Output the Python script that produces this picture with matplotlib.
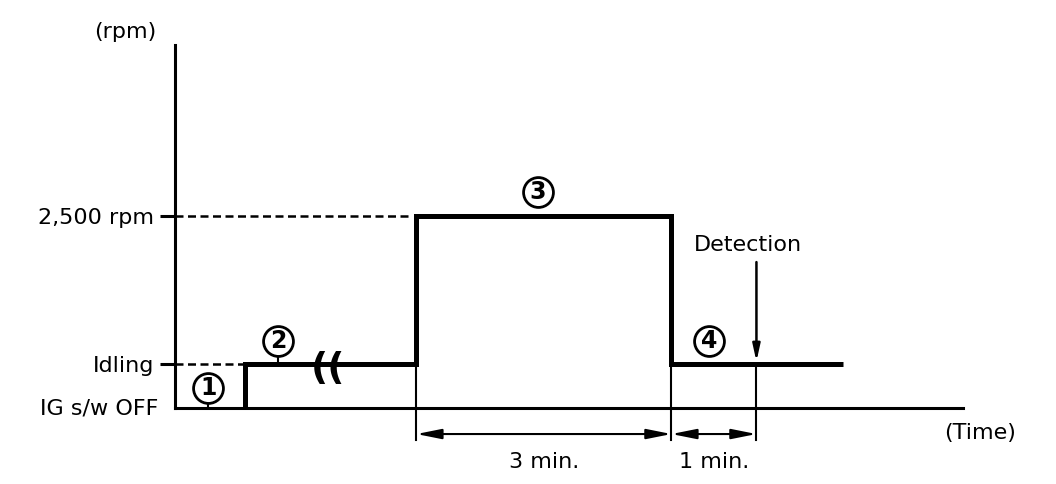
import matplotlib
matplotlib.use("Agg")
import matplotlib.pyplot as plt

# ---- data (time in minutes, speed in rpm; schematic) ----
level_names = ["IG s/w OFF", "Idling", "2,500 rpm"]
rpm_off = 0
rpm_idle = 575
rpm_high = 2500

t_ig_on = 0.82        # step 1 -> 2
t_break = 1.80        # time-axis break mark
t_accel = 2.84        # start of 2,500 rpm
hold_high = 3.0       # minutes at 2,500 rpm
hold_detect = 1.0     # minutes until detection
t_end = 7.86          # end of the trace
t_axis_end = 9.27

t_down = t_accel + hold_high
t_detect = t_down + hold_detect

step_t = [t_ig_on, t_ig_on, t_accel, t_accel, t_down, t_down, t_end]
step_rpm = [rpm_off, rpm_idle, rpm_idle, rpm_high, rpm_high, rpm_idle, rpm_idle]

circle_labels = ["1", "2", "3", "4"]
circle_t = [0.39, 1.21, 4.27, 6.28]
circle_rpm = [260, 872, 2812, 872]
circle_stem_to = [rpm_off, rpm_idle, None, None]

dim_labels = ["3 min.", "1 min."]

# ---- figure ----
plt.rcParams['font.family'] = ['DejaVu Sans']
fig = plt.figure(figsize=(10.56, 4.84), dpi=100)
ax = fig.add_axes([175/1056, 76/484, 788/1056, 363/484])
ax.set_xlim(0, t_axis_end)
ax.set_ylim(0, 4727)

for s in ["top", "right"]:
    ax.spines[s].set_visible(False)
for s in ["left", "bottom"]:
    ax.spines[s].set_linewidth(2.2)
ax.set_xticks([])
ax.set_yticks([rpm_idle, rpm_high])
ax.set_yticklabels(level_names[1:], fontsize=16)
ax.tick_params(axis='y', direction='out', length=11, width=2.2, pad=4)

fs = 16
# OFF label
ax.text(-0.2, rpm_off, level_names[0], ha='right', va='center', fontsize=fs, clip_on=False)
# axis labels
ax.text(-0.58, 4896, "(rpm)", ha='center', va='center', fontsize=fs, clip_on=False)
ax.text(9.47, -326, "(Time)", ha='center', va='center', fontsize=fs, clip_on=False)

# dashed guide lines
ax.plot([0, t_ig_on], [rpm_idle, rpm_idle], color='black', lw=1.8, ls=(0, (3.2, 1.8)))
ax.plot([0, t_accel - 0.06], [rpm_high, rpm_high], color='black', lw=1.8, ls=(0, (3.2, 1.8)))

# main step trace
ax.plot(step_t, step_rpm, color='black', lw=3.6, solid_joinstyle='miter',
        solid_capstyle='butt', zorder=3)

# break mark
ax.text(t_break, rpm_idle - 70, "((", ha='center', va='center', fontsize=27,
        fontweight='bold', zorder=4)

# extension lines
ext_bottom = -417
for tx in [t_accel, t_down, t_detect]:
    ax.plot([tx, tx], [rpm_idle, ext_bottom], color='black', lw=1.5, clip_on=False, zorder=2)

# dimension arrows
dim_y = -339
for (a, b), lab in zip([(t_accel, t_down), (t_down, t_detect)], dim_labels):
    ax.annotate("", xy=(a, dim_y), xytext=(b, dim_y), annotation_clip=False,
                arrowprops=dict(arrowstyle='<|-|>,head_length=1.5,head_width=0.3',
                                color='black', lw=1.5, shrinkA=0, shrinkB=0))
    ax.text((a + b) / 2, -703, lab, ha='center', va='center', fontsize=fs, clip_on=False)

# detection arrow
ax.annotate("", xy=(t_detect, rpm_idle + 30), xytext=(t_detect, 1900),
            arrowprops=dict(arrowstyle='-|>,head_length=1.0,head_width=0.22',
                            color='black', lw=1.8, shrinkA=0, shrinkB=0))
ax.text(6.74, 2122, "Detection", ha='center', va='center', fontsize=fs)

# circled step numbers
for lab, tx, ry, stem in zip(circle_labels, circle_t, circle_rpm, circle_stem_to):
    if stem is not None:
        ax.plot([tx, tx], [ry - 190, stem], color='black', lw=1.5, zorder=4)
    ax.plot([tx], [ry], marker='o', markersize=21.5, markerfacecolor='white',
            markeredgecolor='black', markeredgewidth=2.0, zorder=5, clip_on=False)
    ax.text(tx, ry, lab, ha='center', va='center', fontsize=17, fontweight='bold',
            zorder=6)

fig.savefig("out.png", dpi=100)
